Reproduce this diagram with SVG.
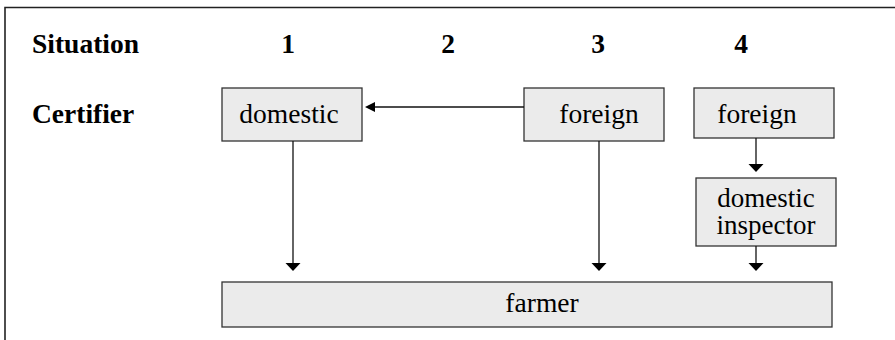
<svg xmlns="http://www.w3.org/2000/svg" width="895" height="340" viewBox="0 0 895 340">
<rect width="895" height="340" fill="#fff"/>
<path d="M5,340 V7.5 H895" fill="none" stroke="#222" stroke-width="1.6"/>
<g id="headers">
<text x="32" y="53" font-family="Times New Roman" font-size="27.5" font-weight="bold">Situation</text>
<text x="288" y="53" text-anchor="middle" font-family="Times New Roman" font-size="27.5" font-weight="bold">1</text>
<text x="448" y="53" text-anchor="middle" font-family="Times New Roman" font-size="27.5" font-weight="bold">2</text>
<text x="598" y="53" text-anchor="middle" font-family="Times New Roman" font-size="27.5" font-weight="bold">3</text>
<text x="741" y="53" text-anchor="middle" font-family="Times New Roman" font-size="27.5" font-weight="bold">4</text>
<text x="32" y="123" font-family="Times New Roman" font-size="27.5" font-weight="bold">Certifier</text>
</g>
<g id="domestic1">
<rect x="222" y="88" width="140" height="53" fill="#ebebeb" stroke="#333" stroke-width="1.3"/>
<text x="289" y="123" text-anchor="middle" font-family="Times New Roman" font-size="27.5">domestic</text>
</g>
<g id="foreign3">
<rect x="524" y="88" width="140" height="53" fill="#ebebeb" stroke="#333" stroke-width="1.3"/>
<text x="599" y="123" text-anchor="middle" font-family="Times New Roman" font-size="27.5">foreign</text>
</g>
<g id="foreign4">
<rect x="694" y="88" width="140" height="50" fill="#ebebeb" stroke="#333" stroke-width="1.3"/>
<text x="757" y="123" text-anchor="middle" font-family="Times New Roman" font-size="27.5">foreign</text>
</g>
<g id="inspector4">
<rect x="696" y="178" width="140" height="68" fill="#ebebeb" stroke="#333" stroke-width="1.3"/>
<text x="766" y="207" text-anchor="middle" font-family="Times New Roman" font-size="27">domestic</text>
<text x="766" y="234" text-anchor="middle" font-family="Times New Roman" font-size="27">inspector</text>
</g>
<g id="farmer">
<rect x="222" y="282" width="610" height="45" fill="#ebebeb" stroke="#333" stroke-width="1.3"/>
<text x="542" y="312" text-anchor="middle" font-family="Times New Roman" font-size="27.5">farmer</text>
</g>
<g id="connectors" stroke="#111" stroke-width="1.3">
<line x1="524" y1="107" x2="372" y2="107"/>
<line x1="293" y1="141" x2="293" y2="265"/>
<line x1="599" y1="141" x2="599" y2="265"/>
<line x1="756" y1="138" x2="756" y2="166"/>
<line x1="756" y1="246" x2="756" y2="265"/>
<g fill="#000" stroke="none">
<polygon points="365,107 375,102 375,112"/>
<polygon points="293,271 285.5,263 300.5,263"/>
<polygon points="599,271 591.5,263 606.5,263"/>
<polygon points="756,172 748.5,164 763.5,164"/>
<polygon points="756,271 748.5,263 763.5,263"/>
</g>
</g>
</svg>
